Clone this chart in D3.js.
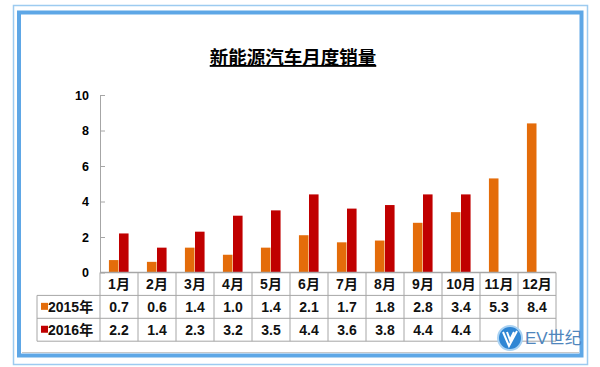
<!DOCTYPE html>
<html>
<head>
<meta charset="utf-8">
<script src="https://d3js.org/d3.v7.min.js"></script>
<style>
  body { margin: 0; background: #fff; }
  svg { display: block; }
  .axis text { font-family: Arial, "Liberation Sans", sans-serif; font-weight: bold; font-size: 12.5px; fill: #000; }
  .axis path, .axis line { stroke: #a6a6a6; }
  .cell-text { font-family: Arial, "Liberation Sans", "Noto Sans CJK SC", sans-serif; font-weight: bold; font-size: 14px; fill: #111; }
</style>
</head>
<body>
<svg id="chart" width="600" height="367"></svg>
<script>
const months = ['1月', '2月', '3月', '4月', '5月', '6月', '7月', '8月', '9月', '10月', '11月', '12月'];
const years = ['2015年', '2016年'];
const sales2015 = [0.7, 0.6, 1.4, 1.0, 1.4, 2.1, 1.7, 1.8, 2.8, 3.4, 5.3, 8.4];
const sales2016 = [2.2, 1.4, 2.3, 3.2, 3.5, 4.4, 3.6, 3.8, 4.4, 4.4, null, null];
const yTicks = [0, 2, 4, 6, 8, 10];
const colors = ['#e46c0a', '#c00000'];

const svg = d3.select('#chart');

// marco azul
svg.append('rect').attr('x', 13.5).attr('y', 5.5).attr('width', 574).attr('height', 359)
  .attr('fill', 'none').attr('stroke', '#9dcbf0').attr('stroke-width', 1.5);
svg.append('rect').attr('x', 19).attr('y', 12.5).attr('width', 562.5).attr('height', 343)
  .attr('fill', 'none').attr('stroke', '#5ea7e6').attr('stroke-width', 4);
svg.append('line').attr('x1', 22).attr('x2', 579).attr('y1', 352.5).attr('y2', 352.5)
  .attr('stroke', '#c8c8c8').attr('stroke-width', 1);

// titulo
svg.append('text')
  .attr('x', 293).attr('y', 64)
  .attr('text-anchor', 'middle')
  .style('font-family', '"Noto Sans CJK SC", sans-serif')
  .style('font-weight', 'bold')
  .style('font-size', '18.5px')
  .style('text-decoration', 'underline')
  .text('新能源汽车月度销量');

const plotLeft = 100, plotRight = 556, plotTop = 95, plotBottom = 272.5;
const tableLeft = 37, rowH = 22.9;

const x = d3.scaleBand().domain(months).range([plotLeft, plotRight]).paddingInner(0.47).paddingOuter(0.235);
const xSub = d3.scaleBand().domain([0, 1]).range([0, x.bandwidth()]);
const y = d3.scaleLinear().domain([0, 10]).range([plotBottom, plotTop]);
const col = d3.scaleBand().domain(months).range([plotLeft, plotRight]);

// barras
const series = [sales2015, sales2016];
series.forEach((vals, s) => {
  svg.append('g').selectAll('rect')
    .data(months.map((m, i) => ({ m: m, v: vals[i] })).filter(d => d.v != null))
    .enter().append('rect')
    .attr('x', d => x(d.m) + xSub(s))
    .attr('width', xSub.bandwidth() - 0.5)
    .attr('y', d => y(d.v))
    .attr('height', d => y(0) - y(d.v))
    .attr('fill', colors[s]);
});

// eje Y
const axisY = d3.axisLeft(y).tickValues(yTicks).tickSizeInner(-5).tickSizeOuter(0).tickPadding(11);
svg.append('g').attr('class', 'axis').attr('transform', 'translate(' + plotLeft + ',0)').call(axisY);

// tabla
const tbl = svg.append('g');
const rowsY = [plotBottom, plotBottom + rowH, plotBottom + 2 * rowH, plotBottom + 3 * rowH];
tbl.selectAll('.hline').data(rowsY).enter().append('line')
  .attr('x1', (d, i) => i === 0 ? plotLeft : tableLeft).attr('x2', plotRight)
  .attr('y1', d => d).attr('y2', d => d)
  .attr('stroke', '#a6a6a6').attr('stroke-width', (d, i) => i === 0 ? 1.5 : 1);
tbl.selectAll('.vline').data(months.map(m => col(m)).concat([plotRight])).enter().append('line')
  .attr('x1', d => d).attr('x2', d => d)
  .attr('y1', plotBottom).attr('y2', rowsY[3])
  .attr('stroke', '#a6a6a6');
tbl.append('line').attr('x1', tableLeft).attr('x2', tableLeft)
  .attr('y1', rowsY[1]).attr('y2', rowsY[3]).attr('stroke', '#a6a6a6');

tbl.selectAll('.mes').data(months).enter().append('text')
  .attr('class', 'cell-text')
  .attr('x', d => col(d) + col.bandwidth() / 2)
  .attr('y', rowsY[0] + rowH / 2 + 5)
  .attr('text-anchor', 'middle')
  .text(d => d);

series.forEach((vals, s) => {
  const ry = rowsY[s + 1] + rowH / 2 + 5;
  tbl.selectAll('.v' + s).data(months.map((m, i) => ({ m: m, v: vals[i] })).filter(d => d.v != null))
    .enter().append('text')
    .attr('class', 'cell-text')
    .attr('x', d => col(d.m) + col.bandwidth() / 2)
    .attr('y', ry)
    .attr('text-anchor', 'middle')
    .text(d => d.v.toFixed(1));
  tbl.append('rect').attr('x', 41).attr('y', ry - 9).attr('width', 7).attr('height', 7).attr('fill', colors[s]);
  tbl.append('text').attr('class', 'cell-text').attr('x', 48).attr('y', ry).text(years[s]);
});

// logo EV世纪
const logo = svg.append('g').attr('transform', 'translate(510,338)');
logo.append('circle').attr('r', 12).attr('fill', '#2f86d4').attr('stroke', '#a9d2f3').attr('stroke-width', 2);
logo.append('path').attr('d', 'M-7,-6 L-1,8 L7,-7 M-3,-6 L0,2 L4,-6').attr('fill', 'none').attr('stroke', '#fff').attr('stroke-width', 2);
logo.append('text').attr('x', 15).attr('y', 6)
  .style('font-family', 'Arial, "Liberation Sans", "Noto Sans CJK SC", sans-serif')
  .style('font-size', '17px').attr('fill', '#4f86bd')
  .text('EV世纪');
</script>
</body>
</html>
